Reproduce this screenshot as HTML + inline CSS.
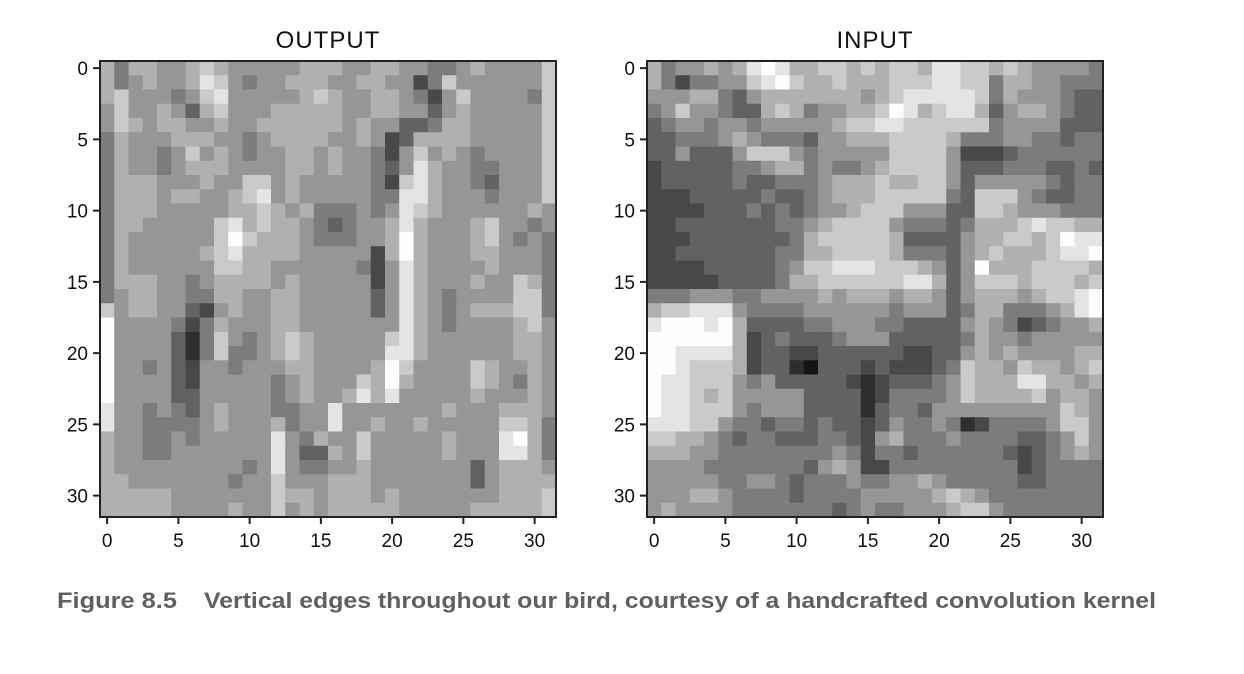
<!DOCTYPE html>
<html><head><meta charset="utf-8"><style>
html,body{margin:0;padding:0;background:#fff;}
svg{display:block;}
text{font-family:"Liberation Sans",sans-serif;}
</style></head><body>
<svg id="fig" width="1244" height="674" viewBox="0 0 1244 674" xmlns="http://www.w3.org/2000/svg">
<text x="328" y="48" font-size="24" text-anchor="middle" fill="#111" letter-spacing="1">OUTPUT</text>
<text x="875" y="48" font-size="24" text-anchor="middle" fill="#111" letter-spacing="1">INPUT</text>
<g id="out"></g>
<g id="inp"></g>
<text x="57" y="608" font-size="22" font-weight="bold" fill="#606060" textLength="120" lengthAdjust="spacingAndGlyphs">Figure 8.5</text>
<text x="204" y="608" font-size="22" font-weight="bold" fill="#606060" textLength="952" lengthAdjust="spacingAndGlyphs">Vertical edges throughout our bird, courtesy of a handcrafted convolution kernel</text>
</svg>
<script>
const outputRows = [
"64665567655555666556655445655557",
"64565568754556665566552475555557",
"67555457855555676556654257555547",
"57556536755566666556655356555557",
"57656655655666666565533466555557",
"46555666554566665565236666555557",
"46554575654556656554257565455557",
"46554566655556656554358655445557",
"46665556557756555554278655435557",
"46665665567856555554488655545557",
"46665555566765644454587655555565",
"46655555786766543455686555675545",
"46555555797666544455696555675454",
"46555556786666555552696555665554",
"46555555776655555542586555565554",
"46665545666656555552586555655764",
"45665544665566555553586545555774",
"75665532565566555553586545666774",
"95555424655566555555586545555675",
"95555314754567655555786555555665",
"95555314744567655555886555555665",
"95545325545556655556975555765565",
"95555325555545655576965555765465",
"95555335555545655686855555655565",
"85545435655544558555555565556665",
"85544445655564558556556555557764",
"65544545555585465575555565558964",
"65544555555585336575555565558864",
"65555555554585445565555555356665",
"66555555545575556665555555356666",
"66666555555576656665655555556667",
"66666555565575656666655555666667"];
const inputRows = [
"64556568986677676776887767655554",
"64244557897667666777887746655444",
"55566435666666656788888746555433",
"45755433676455667986788635665433",
"34554554555556778877777745555333",
"33444565444355666777764445544344",
"33533357775455555777752223444444",
"23333344566454456777753334443343",
"23333343344456667667753555554344",
"22233333433456667777743777543344",
"22223334343455677755533776555444",
"22333333344567777544434666787766",
"22233333334677777633335667767988",
"22333333344667777644435676667889",
"22223333345778887776535966677776",
"22222333346677777788635777677767",
"44455544555565666566535666567789",
"67788854444555555455534664445689",
"89998963333445554433335654234556",
"99999962343334555333334655455555",
"99888862332233333322335656555566",
"99877762331033323222347665766567",
"98877754533333212333457666886656",
"98876755555333312444457666675665",
"98877754555333313443555555555765",
"88877544344343323544541244445775",
"77665434433344325644454444334575",
"66655444444445424434444443234565",
"55554444444356522444444444234444",
"55555445543444544556544444334444",
"55566544443444455555676544444444",
"56555544444443454455567754444444"];
const yTicks = [0,5,10,15,20,25,30];
const xTicks = [0,5,10,15,20,25,30];
const NS='http://www.w3.org/2000/svg';
const N=32, CELL=456/32, TOP=61;
function mk(tag,attrs,parent){const e=document.createElementNS(NS,tag);for(const k in attrs)e.setAttribute(k,attrs[k]);parent.appendChild(e);return e;}
function draw(gid,rows,left){
  const g=document.getElementById(gid);
  const xs=i=>left+i*CELL, ys=j=>TOP+j*CELL;
  rows.forEach((row,j)=>{
    for(let i=0;i<N;i++){
      const v=20+parseInt(row[i],10)*26;
      const r=mk('rect',{x:xs(i).toFixed(2),y:ys(j).toFixed(2),width:(CELL+0.6).toFixed(2),height:(CELL+0.6).toFixed(2),fill:`rgb(${v},${v},${v})`},g);
      
      
    }
  });
  const fr=mk('rect',{x:left,y:TOP,width:456,height:456,fill:'none',stroke:'#222','stroke-width':2},g);
  
  
  yTicks.forEach(t=>{
    const y=ys(t+0.5);
    const l=mk('line',{x1:left-7,x2:left,y1:y,y2:y,stroke:'#222','stroke-width':2},g);
    
    
    const tx=mk('text',{x:left-12,y:y+7,'font-size':19,'text-anchor':'end',fill:'#111'},g);
    tx.textContent=t;
    
    
  });
  xTicks.forEach(t=>{
    const x=xs(t+0.5);
    const l=mk('line',{x1:x,x2:x,y1:TOP+456,y2:TOP+463,stroke:'#222','stroke-width':2},g);
    
    
    const tx=mk('text',{x:x,y:547,'font-size':19,'text-anchor':'middle',fill:'#111'},g);
    tx.textContent=t;
    
    
  });
}
draw('out',outputRows,100);
draw('inp',inputRows,647);
</script>
</body></html>
